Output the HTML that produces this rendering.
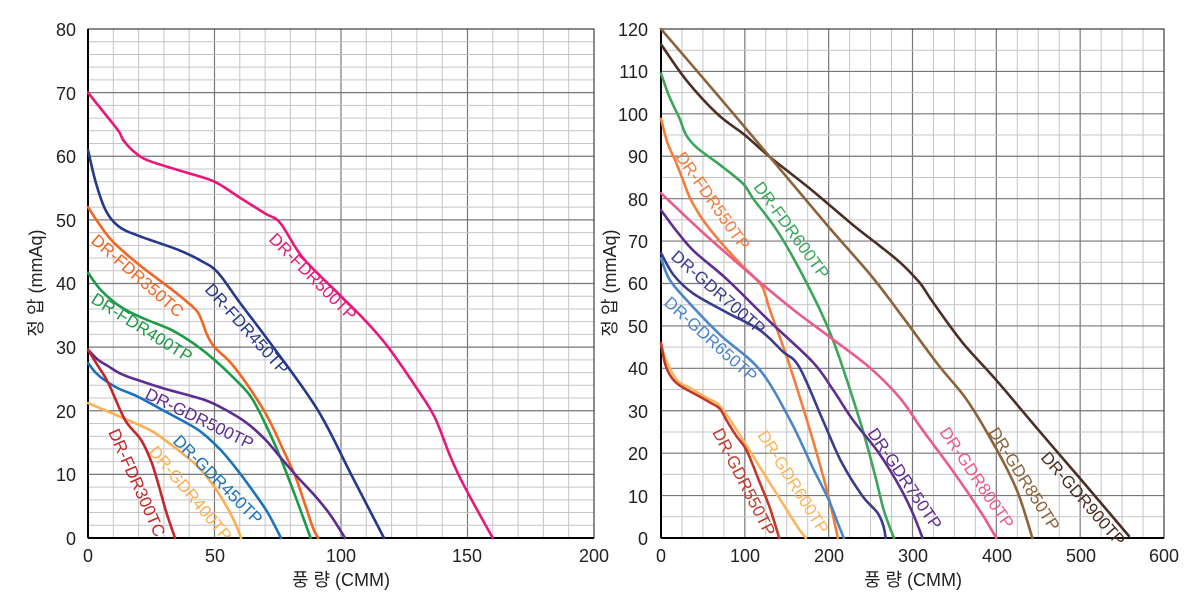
<!DOCTYPE html>
<html><head><meta charset="utf-8"><style>
body{margin:0;background:#fff}
svg{display:block}
text{font-family:"Liberation Sans","Noto Sans CJK KR",sans-serif;}
.t{font-size:18px;fill:#222}
.l{font-size:17px}
</style></head><body>
<svg id="s" width="1200" height="600" xmlns="http://www.w3.org/2000/svg">
<g id="grid"></g>
<g id="curves" fill="none" stroke-width="2.6" stroke-linejoin="round" stroke-linecap="round"></g>
<g class="t" text-anchor="end">
<text x="76" y="36">80</text><text x="76" y="100">70</text><text x="76" y="163">60</text><text x="76" y="227">50</text><text x="76" y="290">40</text><text x="76" y="354">30</text><text x="76" y="418">20</text><text x="76" y="481">10</text><text x="76" y="545">0</text>
</g>
<g class="t" text-anchor="middle">
<text x="88" y="562">0</text><text x="215" y="562">50</text><text x="341" y="562">100</text><text x="467" y="562">150</text><text x="594" y="562">200</text>
<text x="341" y="586">풍 량 (CMM)</text>
<text transform="translate(42,283) rotate(-90)">정 압 (mmAq)</text>
</g>
<g class="t" text-anchor="end">
<text x="648" y="36">120</text><text x="648" y="78">110</text><text x="648" y="121">100</text><text x="648" y="163">90</text><text x="648" y="206">80</text><text x="648" y="248">70</text><text x="648" y="290">60</text><text x="648" y="333">50</text><text x="648" y="375">40</text><text x="648" y="418">30</text><text x="648" y="460">20</text><text x="648" y="503">10</text><text x="648" y="545">0</text>
</g>
<g class="t" text-anchor="middle">
<text x="661" y="562">0</text><text x="745" y="562">100</text><text x="829" y="562">200</text><text x="913" y="562">300</text><text x="997" y="562">400</text><text x="1081" y="562">500</text><text x="1164" y="562">600</text>
<text x="913" y="586">풍 량 (CMM)</text>
<text transform="translate(616,283) rotate(-90)">정 압 (mmAq)</text>
</g>
<g class="l">
<text transform="translate(268,240) rotate(45)" fill="#e8177a">DR-FDR500TP</text>
<text transform="translate(204,290) rotate(48)" fill="#253889">DR-FDR450TP</text>
<text transform="translate(90,242) rotate(41)" fill="#f26522">DR-FDR350TC</text>
<text transform="translate(90,302) rotate(32)" fill="#1b9a48">DR-FDR400TP</text>
<text transform="translate(144,398) rotate(26)" fill="#5c2d91">DR-GDR500TP</text>
<text transform="translate(172,442) rotate(45)" fill="#1a73ba">DR-GDR450TP</text>
<text transform="translate(148,452) rotate(50)" fill="#fbb050">DR-GDR400TP</text>
<text transform="translate(108,432) rotate(66)" fill="#c1272d">DR-FDR300TC</text>
<text transform="translate(675,157) rotate(55)" fill="#f47c3c">DR-FDR550TP</text>
<text transform="translate(753,187) rotate(54)" fill="#3ba55c">DR-FDR600TP</text>
<text transform="translate(670,258) rotate(41)" fill="#3a3b8f">DR-GDR700TP</text>
<text transform="translate(663,304) rotate(42)" fill="#4a86c7">DR-GDR650TP</text>
<text transform="translate(712,432) rotate(63)" fill="#c1392b">DR-GDR550TP</text>
<text transform="translate(757,435) rotate(58)" fill="#fdb55b">DR-GDR600TP</text>
<text transform="translate(867,433) rotate(56)" fill="#5e2e91">DR-GDR750TP</text>
<text transform="translate(939,432) rotate(56)" fill="#ea5a8c">DR-GDR800TP</text>
<text transform="translate(988,432) rotate(58)" fill="#8c6239">DR-GDR850TP</text>
<text transform="translate(1040,458) rotate(49)" fill="#4b2e24">DR-GDR900TP</text>
</g>
</svg>
<script>
var NS="http://www.w3.org/2000/svg";
function el(p,n,a){var e=document.createElementNS(NS,n);for(var k in a)e.setAttribute(k,a[k]);p.appendChild(e);return e;}
var g=document.getElementById('grid'),c=document.getElementById('curves');
var L={x0:88,x1:594,y0:538,y1:29,xm:200,ym:80,xmin:10,xmaj:50,ymin:2,ymaj:10};
var R={x0:661,x1:1164,y0:538,y1:29,xm:600,ym:120,xmin:25,xmaj:100,ymin:5,ymaj:10};
function grid(P){
 for(var v=0;v<=P.xm+1e-6;v+=P.xmin){var x=P.x0+(P.x1-P.x0)*v/P.xm;var maj=Math.abs(v/P.xmaj-Math.round(v/P.xmaj))<1e-6;
  el(g,'line',{x1:x,x2:x,y1:P.y1,y2:P.y0,stroke:maj?'#777':'#c4c4c4','stroke-width':maj?1.2:1});}
 for(var v=0;v<=P.ym+1e-6;v+=P.ymin){var y=P.y0-(P.y0-P.y1)*v/P.ym;var maj=Math.abs(v/P.ymaj-Math.round(v/P.ymaj))<1e-6;
  el(g,'line',{x1:P.x0,x2:P.x1,y1:y,y2:y,stroke:maj?'#777':'#c4c4c4','stroke-width':maj?1.2:1});}
 el(g,'rect',{x:P.x0,y:P.y1,width:P.x1-P.x0,height:P.y0-P.y1,fill:'none',stroke:'#333','stroke-width':1});
 el(g,'line',{x1:P.x0,x2:P.x0,y1:P.y1,y2:P.y0,stroke:'#000','stroke-width':2});
 el(g,'line',{x1:P.x0,x2:P.x1,y1:P.y0,y2:P.y0,stroke:'#000','stroke-width':2});
}
grid(L);grid(R);
function curve(P,col,pts){
 var q=pts.map(function(p){return [P.x0+(P.x1-P.x0)*p[0]/P.xm, P.y0-(P.y0-P.y1)*p[1]/P.ym]});
 var d='M'+q[0][0].toFixed(1)+','+q[0][1].toFixed(1);
 for(var i=0;i<q.length-1;i++){
  var p0=q[Math.max(i-1,0)],p1=q[i],p2=q[i+1],p3=q[Math.min(i+2,q.length-1)];
  var c1=[p1[0]+(p2[0]-p0[0])/6,p1[1]+(p2[1]-p0[1])/6],c2=[p2[0]-(p3[0]-p1[0])/6,p2[1]-(p3[1]-p1[1])/6];
  d+=' C'+c1[0].toFixed(1)+','+c1[1].toFixed(1)+' '+c2[0].toFixed(1)+','+c2[1].toFixed(1)+' '+p2[0].toFixed(1)+','+p2[1].toFixed(1);
 }
 el(c,'path',{d:d,stroke:col});}
curve(L,'#e8177a',[[0,70],[5,67.5],[12,64],[14,62.5],[18,60.8],[24,59.3],[40,57.3],[50,56],[60,53.5],[70,51],[76,49.5],[85,44],[100,38],[110,34],[118.6,30],[130,23.5],[137,19],[143,13],[147,9.5],[153,5],[160,0]]);
curve(L,'#253889',[[0,61],[3,56],[7,51.5],[12,49],[20,47.5],[35.6,45.3],[45,43.5],[51.4,41.7],[60,37],[74,29.6],[91,20],[104,10],[117,0]]);
curve(L,'#f26522',[[0,52],[5,49],[10,46.5],[20,43],[30,40],[38,37.5],[43.5,35.4],[47,32],[50,30],[56.5,27.5],[64,23.5],[71,19],[77,14],[82,9.6],[86,5],[89,1.5],[91,0]]);
curve(L,'#1b9a48',[[0,41.7],[5,39],[13,36.3],[22,34.5],[33,32.7],[42,30.5],[50,28],[58,25],[64.4,22.2],[70,18],[76,12.7],[82,6.5],[88,0]]);
curve(L,'#5c2d91',[[0,29.6],[4,28],[8,27],[13,25.8],[19.8,24.8],[30,23.5],[46,21.7],[55,20],[63,18],[70,15.5],[76,12.7],[83,9.5],[90,6.5],[96,3.5],[101.6,0]]);
curve(L,'#1a73ba',[[0,27.5],[3,26],[6.6,24.8],[12,23.5],[19.8,22.2],[30,20],[43.5,17],[52,14],[59,10.7],[65,7.5],[71,4],[76.3,0]]);
curve(L,'#fbb050',[[0,21.2],[6,20.2],[13,19],[20,17.8],[26.5,16.5],[35,14],[43.5,11.2],[50,8],[54,5.5],[58,2.5],[60.5,0]]);
curve(L,'#c1272d',[[0,29.6],[4,27],[8,24.4],[14.6,18.6],[21,15.4],[25,12],[27.7,8.6],[31,4],[34.4,0]]);
curve(R,'#4b2e24',[[0,116.4],[30,108],[67,100],[100,95],[130,89.8],[180,82],[229,73.8],[260,69],[285,65],[305,61],[313,59],[325,55.4],[360,46],[400,37.2],[450,25.5],[500,14],[558,0.5]]);
curve(R,'#8c6239',[[0,120],[65,105],[130,89.8],[198,73.8],[250,62],[285,53],[330,41],[365,32.5],[400,21],[425,11],[443,0]]);
curve(R,'#3ba55c',[[0,109.5],[10,104],[22,99],[30,95],[43,92],[70,88],[98,83.5],[110,80],[140,72],[174,60],[205,46.7],[237,27.8],[255,15],[265,7],[272,3],[278,0]]);
curve(R,'#f47c3c',[[0,98.8],[8,93],[17,89],[27,84],[35,80],[50,75],[70,70],[94,64.8],[118,60],[125,57],[130,53.7],[150,42.7],[174,27.8],[190,17],[202,8],[211,0]]);
curve(R,'#ea5a8c',[[0,81.3],[50,72],[115,60.8],[160,53.5],[206,46.7],[250,40],[285,33],[310,26],[340,18],[364,11.3],[385,5],[400,0]]);
curve(R,'#5e2e91',[[0,77.3],[20,72],[40,67.5],[78.6,61],[130,51],[181,41.5],[205,35],[229,27.8],[260,20],[285,12],[300,6],[312,0]]);
curve(R,'#3a3b8f',[[0,67.2],[15,62],[38,57.7],[80,53],[118,49],[145,44],[165,40.3],[193,27.8],[215,18],[240,10],[258,6],[265,3],[268,0]]);
curve(R,'#4a86c7',[[0,66],[10,61],[31,56],[70,48],[118,39.6],[154,27.8],[180,17],[200,9],[212,3],[218,0]]);
curve(R,'#fdb55b',[[0,45.5],[8,41],[20,37],[34.5,35.4],[55,33],[70,31.2],[90,25.5],[118,16.7],[150,6.6],[165,2],[173,0]]);
curve(R,'#c1392b',[[0,46],[5,41],[12,38],[22,36],[40,34],[58,32],[70,30.5],[78,27.8],[90,24],[102,20.7],[118,13],[130,7],[141,0]]);
</script>
</body></html>
